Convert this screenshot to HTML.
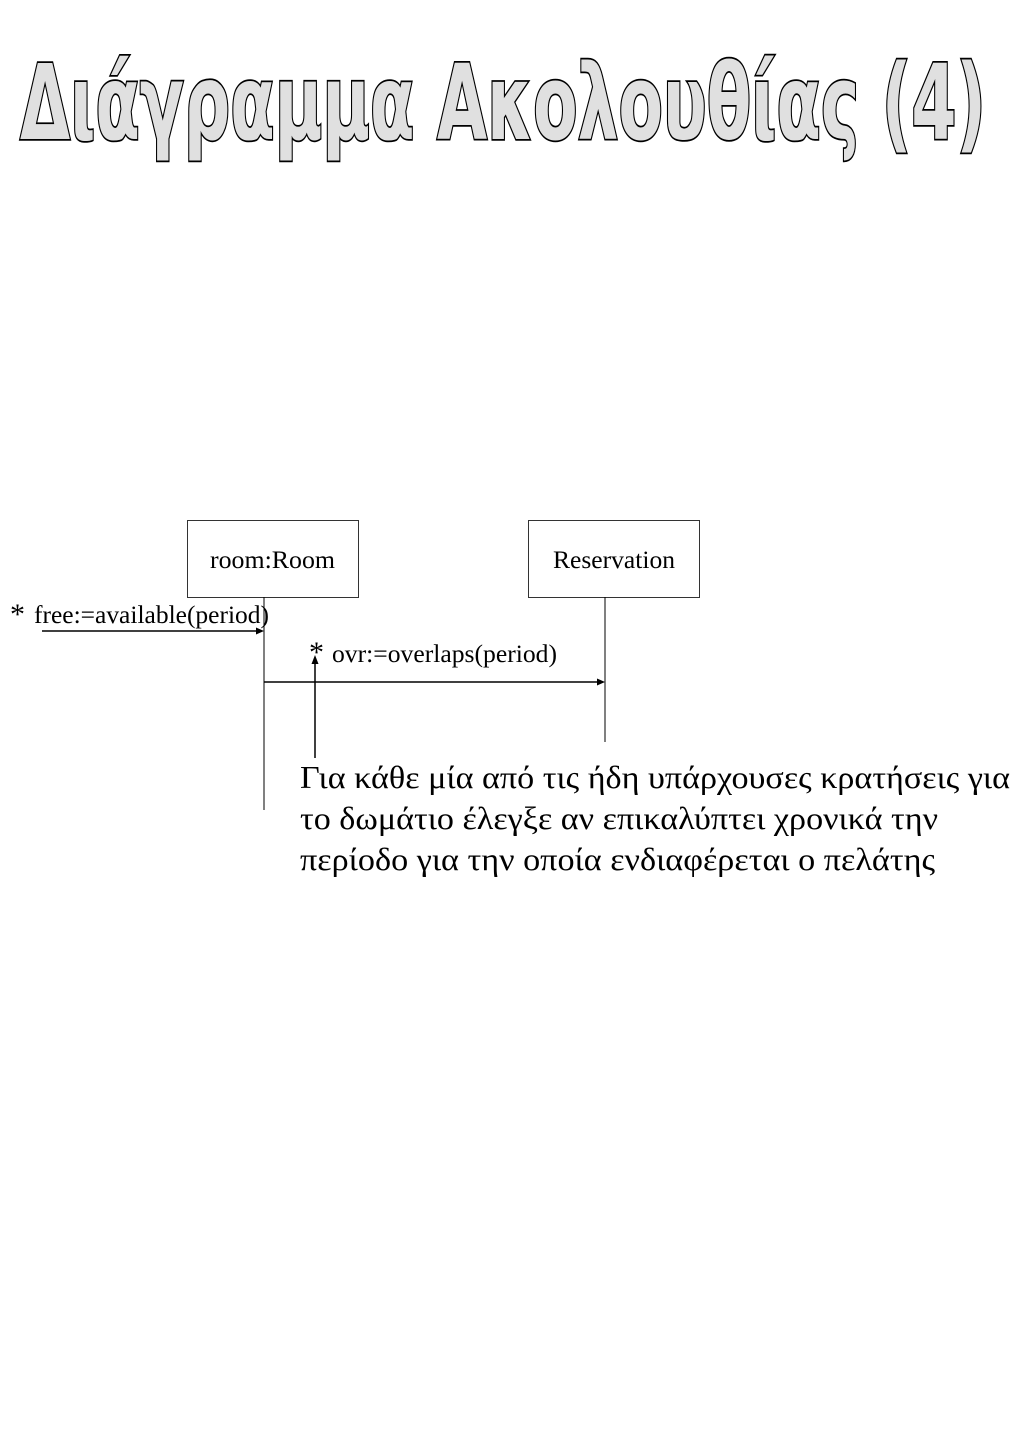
<!DOCTYPE html>
<html><head><meta charset="utf-8"><style>
html,body{margin:0;padding:0;background:#fff;}
body{width:1024px;height:1448px;position:relative;overflow:hidden;}
</style></head><body>
<svg width="1024" height="1448" xmlns="http://www.w3.org/2000/svg" style="position:absolute;left:0;top:0">
<text x="20" y="139" font-family="DejaVu Sans, sans-serif" font-weight="bold" font-size="104" fill="#e0e0e0" stroke="#000" stroke-width="3.5" paint-order="stroke" textLength="966" lengthAdjust="spacingAndGlyphs">Διάγραμμα Ακολουθίας (4)</text>
<g font-family="Liberation Serif, serif" fill="#000">
<rect x="187.5" y="520.5" width="171" height="77" fill="none" stroke="#333"/>
<rect x="528.5" y="520.5" width="171" height="77" fill="none" stroke="#333"/>
<text x="210" y="568" font-size="25" textLength="125" lengthAdjust="spacingAndGlyphs">room:Room</text>
<text x="553" y="568" font-size="25" textLength="122" lengthAdjust="spacingAndGlyphs">Reservation</text>
<line x1="264" y1="597" x2="264" y2="810" stroke="#000"/>
<line x1="605" y1="597" x2="605" y2="742" stroke="#000"/>
<text x="10" y="624" font-size="30">*</text>
<text x="34" y="623" font-size="25" textLength="235" lengthAdjust="spacingAndGlyphs">free:=available(period)</text>
<line x1="42" y1="631" x2="258" y2="631" stroke="#000" stroke-width="1.5"/>
<polygon points="264,631 256,627.5 256,634.5"/>
<text x="309" y="662" font-size="30">*</text>
<text x="332" y="662" font-size="25" textLength="225" lengthAdjust="spacingAndGlyphs">ovr:=overlaps(period)</text>
<line x1="264" y1="682" x2="598" y2="682" stroke="#000" stroke-width="1.5"/>
<polygon points="605,682 597,678.5 597,685.5"/>
<line x1="315" y1="662" x2="315" y2="758" stroke="#000" stroke-width="1.5"/>
<polygon points="315,655 311.5,664 318.5,664"/>
<text x="300" y="788" font-size="32" textLength="710" lengthAdjust="spacingAndGlyphs">Για κάθε μία από τις ήδη υπάρχουσες κρατήσεις για</text>
<text x="300" y="829" font-size="32" textLength="638" lengthAdjust="spacingAndGlyphs">το δωμάτιο έλεγξε αν επικαλύπτει χρονικά την</text>
<text x="300" y="870" font-size="32" textLength="635" lengthAdjust="spacingAndGlyphs">περίοδο για την οποία ενδιαφέρεται ο πελάτης</text>
</g>
</svg>
</body></html>
